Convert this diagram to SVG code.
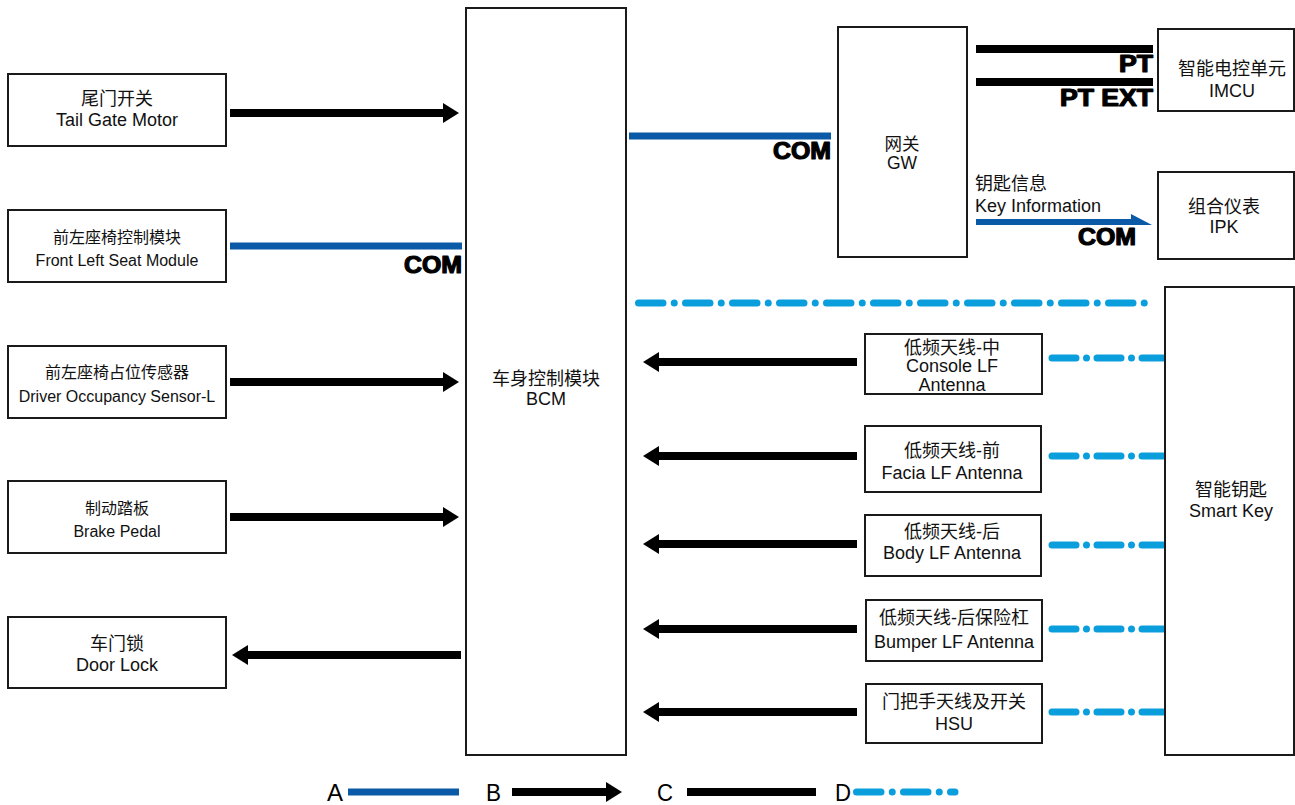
<svg xmlns="http://www.w3.org/2000/svg" width="1295" height="805" viewBox="0 0 1295 805">
<style>
.box{fill:#fff;stroke:#1a1a1a;stroke-width:2}
.t{font-family:"Liberation Sans","Noto Sans CJK SC",sans-serif;fill:#111;text-anchor:middle}
.s16{font-size:16px}
.s17{font-size:17.5px}
.s18{font-size:18px}
.lbl{font-family:"Liberation Sans",sans-serif;font-weight:bold;font-size:23px;fill:#000;stroke:#000;stroke-width:1.2;stroke-linejoin:round;text-anchor:end}
.blk{stroke:#000;stroke-width:8;fill:none}
.blu{stroke:#0b5aa8;stroke-width:7;fill:none}
.dd{stroke:#0a9edd;stroke-width:7;fill:none;stroke-linecap:round;stroke-dasharray:24.5 11.25 0 11.25}
.dds{stroke:#0a9edd;stroke-width:7;fill:none;stroke-linecap:round;stroke-dasharray:24 10.5 0 10.5}
.leg{font-family:"Liberation Sans",sans-serif;font-size:24px;fill:#000}
</style>
<defs>
<marker id="ah" viewBox="0 0 16 20" markerWidth="16" markerHeight="20" refX="0" refY="10" markerUnits="userSpaceOnUse" orient="auto">
<path d="M0,0 L16,10 L0,20 Z" fill="#000"/>
</marker>
</defs>

<g id="connectors">
<line class="blk" x1="230" y1="113" x2="443" y2="113" marker-end="url(#ah)"/>
<line class="blu" x1="230" y1="246" x2="462" y2="246"/>
<text class="lbl" x="462" y="273" textLength="58" lengthAdjust="spacingAndGlyphs">COM</text>
<line class="blk" x1="230" y1="382" x2="443" y2="382" marker-end="url(#ah)"/>
<line class="blk" x1="230" y1="517" x2="443" y2="517" marker-end="url(#ah)"/>
<line class="blk" x1="461" y1="655" x2="248" y2="655" marker-end="url(#ah)"/>
<line class="blu" x1="629" y1="136" x2="831" y2="136"/>
<text class="lbl" x="831" y="159" textLength="58" lengthAdjust="spacingAndGlyphs">COM</text>
<line class="blk" x1="976" y1="49" x2="1153" y2="49"/>
<text class="lbl" x="1153" y="72" textLength="34" lengthAdjust="spacingAndGlyphs">PT</text>
<line class="blk" x1="976" y1="82" x2="1153" y2="82"/>
<text class="lbl" x="1153" y="106" textLength="93" lengthAdjust="spacingAndGlyphs">PT EXT</text>
<text class="t s18" x="975" y="190" style="text-anchor:start">钥匙信息</text>
<text class="t s18" x="975" y="212" style="text-anchor:start">Key Information</text>
<path d="M976,219 H1131 L1131,214 L1152,225 H976 Z" fill="#0b5aa8"/>
<text class="lbl" x="1136" y="245" textLength="58" lengthAdjust="spacingAndGlyphs">COM</text>
<line class="dd" x1="638.5" y1="303" x2="1145" y2="303"/>
<line class="blk" x1="857" y1="362" x2="659" y2="362" marker-end="url(#ah)"/>
<line class="blk" x1="857" y1="456" x2="659" y2="456" marker-end="url(#ah)"/>
<line class="blk" x1="857" y1="544" x2="659" y2="544" marker-end="url(#ah)"/>
<line class="blk" x1="857" y1="629" x2="659" y2="629" marker-end="url(#ah)"/>
<line class="blk" x1="857" y1="712" x2="659" y2="712" marker-end="url(#ah)"/>
<line class="dds" x1="1052" y1="358" x2="1163" y2="358"/>
<line class="dds" x1="1052" y1="456" x2="1163" y2="456"/>
<line class="dds" x1="1052" y1="545" x2="1163" y2="545"/>
<line class="dds" x1="1052" y1="629" x2="1163" y2="629"/>
<line class="dds" x1="1052" y1="712" x2="1163" y2="712"/>
</g>

<g id="tailgate"><rect class="box" x="8" y="74" width="218" height="72"/>
<text class="t s18" x="117" y="105">尾门开关</text><text class="t s18" x="117" y="126">Tail Gate Motor</text></g>
<g id="seatmodule"><rect class="box" x="8" y="210" width="218" height="72"/>
<text class="t s16" x="117" y="243">前左座椅控制模块</text><text class="t s16" x="117" y="266">Front Left Seat Module</text></g>
<g id="occupancy"><rect class="box" x="8" y="346" width="218" height="72"/>
<text class="t s16" x="117" y="378">前左座椅占位传感器</text><text class="t s16" x="117" y="402">Driver Occupancy Sensor-L</text></g>
<g id="brake"><rect class="box" x="8" y="481" width="218" height="72"/>
<text class="t s16" x="117" y="514">制动踏板</text><text class="t s16" x="117" y="537">Brake Pedal</text></g>
<g id="doorlock"><rect class="box" x="8" y="617" width="218" height="71"/>
<text class="t s18" x="117" y="650">车门锁</text><text class="t s18" x="117" y="671">Door Lock</text></g>
<g id="bcm"><rect class="box" x="466" y="8" width="160" height="747"/>
<text class="t s18" x="546" y="385">车身控制模块</text><text class="t s18" x="546" y="405">BCM</text></g>
<g id="gw"><rect class="box" x="838" y="27" width="129" height="230"/>
<text class="t s17" x="902" y="150">网关</text><text class="t s17" x="902" y="169">GW</text></g>
<g id="imcu"><rect class="box" x="1158" y="29" width="136" height="82"/>
<text class="t s18" x="1232" y="75">智能电控单元</text><text class="t s18" x="1232" y="97">IMCU</text></g>
<g id="ipk"><rect class="box" x="1158" y="172" width="136" height="87"/>
<text class="t s18" x="1224" y="213">组合仪表</text><text class="t s18" x="1224" y="233">IPK</text></g>
<g id="smartkey"><rect class="box" x="1165" y="287" width="129" height="468"/>
<text class="t s18" x="1231" y="496">智能钥匙</text><text class="t s18" x="1231" y="517">Smart Key</text></g>
<g id="console"><rect class="box" x="865" y="334" width="177" height="60"/>
<text class="t s18" x="952" y="354">低频天线-中</text><text class="t s18" x="952" y="372">Console LF</text><text class="t s18" x="952" y="391">Antenna</text></g>
<g id="facia"><rect class="box" x="865" y="426" width="176" height="66"/>
<text class="t s18" x="952" y="457">低频天线-前</text><text class="t s18" x="952" y="479">Facia LF Antenna</text></g>
<g id="body"><rect class="box" x="865" y="515" width="176" height="61"/>
<text class="t s18" x="952" y="538">低频天线-后</text><text class="t s18" x="952" y="559">Body LF Antenna</text></g>
<g id="bumper"><rect class="box" x="866" y="600" width="176" height="61"/>
<text class="t s18" x="954" y="624">低频天线-后保险杠</text><text class="t s18" x="954" y="648">Bumper LF Antenna</text></g>
<g id="hsu"><rect class="box" x="866" y="684" width="176" height="59"/>
<text class="t s18" x="954" y="708">门把手天线及开关</text><text class="t s18" x="954" y="730">HSU</text></g>

<g id="legend">
<text class="leg" x="327" y="801" textLength="16" lengthAdjust="spacingAndGlyphs">A</text>
<line class="blu" x1="348" y1="792" x2="459" y2="792"/>
<text class="leg" x="486" y="801" textLength="15" lengthAdjust="spacingAndGlyphs">B</text>
<line class="blk" x1="512" y1="792" x2="606" y2="792" marker-end="url(#ah)"/>
<text class="leg" x="657" y="801" textLength="16" lengthAdjust="spacingAndGlyphs">C</text>
<line class="blk" x1="687" y1="792" x2="816" y2="792"/>
<text class="leg" x="835" y="801" textLength="16" lengthAdjust="spacingAndGlyphs">D</text>
<line class="dd" x1="856.5" y1="792" x2="955" y2="792"/>
</g>
</svg>
